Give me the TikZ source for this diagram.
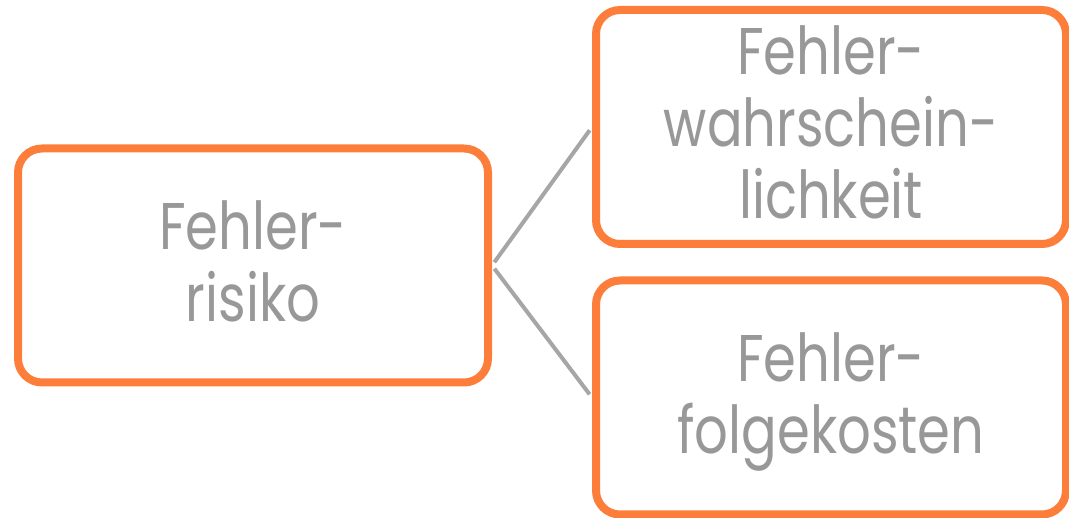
\documentclass[tikz,border=0pt]{standalone}
\usepackage{fontspec}
\setmainfont[FakeStretch=0.8]{Poppins}
\definecolor{boxorange}{RGB}{253,125,58}
\definecolor{textgray}{RGB}{152,152,152}
\definecolor{linegray}{RGB}{166,166,166}
% struts that fix the height above the first baseline and below the last one
\newcommand\txtop{\rule{0pt}{60pt}}
\newcommand\txbot{\rule[-20pt]{0pt}{20pt}}
\begin{document}
\begin{tikzpicture}[x=1pt,y=-1pt,
  termbox/.style={draw=boxorange, line width=8pt, rounded corners=24pt,
    fill=white, inner sep=0pt, minimum width=470pt, minimum height=234pt,
    align=center, text=textgray,
    font=\fontsize{66pt}{72pt}\selectfont},
  conn/.style={draw=linegray, line width=4pt, shorten <=4pt, shorten >=4pt}]
  \useasboundingbox (0,0) rectangle (1069,518);
  \node[termbox] (risk) at (253,265.5) {\txtop Fehler-\\risiko\txbot};
  \node[termbox] (prob) at (831,127) {\txtop Fehler-\\wahrschein-\\lichkeit\txbot};
  \node[termbox] (cost) at (831,397.5) {\txtop Fehler-\\folgekosten\txbot};
  % the two connectors from the central term to its two factors
  \draw[conn] (risk.east) -- (prob.west);
  \draw[conn] (risk.east) -- (cost.west);
\end{tikzpicture}
\end{document}
